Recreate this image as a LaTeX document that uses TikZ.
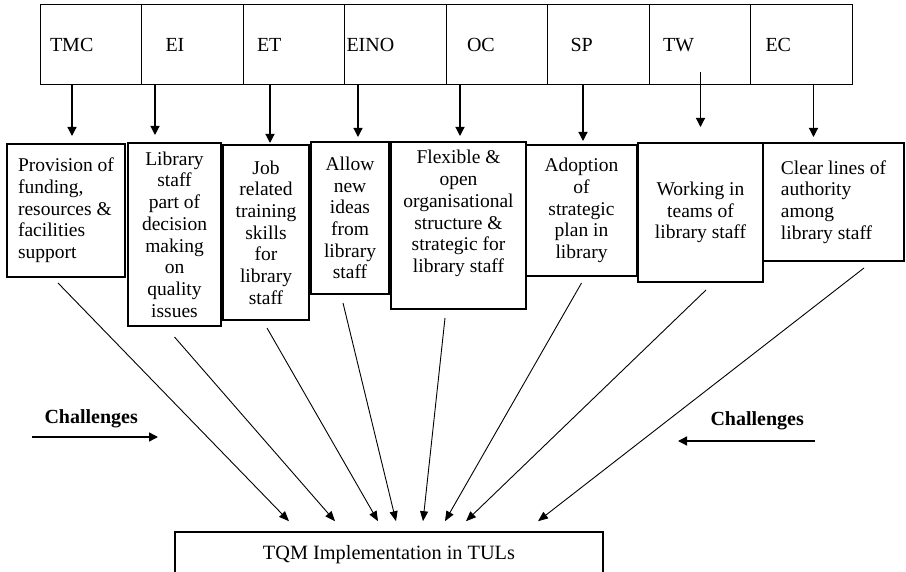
\documentclass[tikz,border=0pt]{standalone}
\usepackage{fontspec}
\setmainfont{Liberation Serif}
\usetikzlibrary{arrows.meta,calc}

\begin{document}
\begin{tikzpicture}[x=1pt,y=-1pt,
        cell/.style={draw, line width=1pt, minimum width=101.5pt, minimum height=80pt, inner xsep=0pt, text width=101.5pt, align=left, font=\fontsize{20}{24}\selectfont},
        box/.style={draw, line width=2pt, inner sep=0pt, font=\fontsize{19.5}{21.7}\selectfont},
        down/.style={-{Triangle[length=9pt,width=9pt]}, line width=1.2pt},
        conv/.style={-{Triangle[length=10pt,width=8pt]}, line width=0.9pt},
        side/.style={-{Triangle[length=9pt,width=9pt]}, line width=1.4pt},
        chal/.style={font=\bfseries\fontsize{20}{24}\selectfont}]
            \useasboundingbox (0,0) rectangle (906,572);
            \node [cell] (tmc) at (90.75,45) {\hspace*{10pt}TMC};
            \node [cell] (ei) at (192.25,45) {\hspace*{24pt}EI};
            \node [cell] (et) at (293.75,45) {\hspace*{14pt}ET};
            \node [cell] (eino) at (395.25,45) {\hspace*{2pt}EINO};
            \node [cell] (oc) at (496.75,45) {\hspace*{21pt}OC};
            \node [cell] (sp) at (598.25,45) {\hspace*{23pt}SP};
            \node [cell] (tw) at (699.75,45) {\hspace*{14pt}TW};
            \node [cell] (ec) at (801.25,45) {\hspace*{15pt}EC};
            \node [box, align=left, minimum width=118pt, minimum height=133pt] (fund) at (66,210.5) {Provision of\\funding,\\resources \&\\facilities\\support};
            \node [box, align=center, minimum width=93pt, minimum height=183pt] (staff) at (174.5,234.5) {Library\\staff\\part of\\decision\\making\\on\\quality\\issues};
            \node [box, align=center, minimum width=86pt, minimum height=175pt] (train) at (266,232.5) {Job\\related\\training\\skills\\for\\library\\staff};
            \node [box, align=center, minimum width=78pt, minimum height=152pt] (ideas) at (350,218) {Allow\\new\\ideas\\from\\library\\staff};
            \node [box, align=center, minimum width=135pt, minimum height=167pt] (struct) at (458.5,225.5) {Flexible \&\\open\\organisational\\structure \&\\strategic for\\library staff\\ \strut};
            \node [box, align=center, minimum width=111pt, minimum height=131pt] (plan) at (581.5,210.5) {Adoption\\of\\strategic\\plan in\\library};
            \node [box, align=center, minimum width=125pt, minimum height=139pt] (teams) at (700.5,212.5) {Working in\\teams of\\library staff};
            \node [box, align=left, minimum width=141pt, minimum height=118pt] (auth) at (833.5,202) {Clear lines of\\authority\\among\\library staff};
            \node [draw, line width=1.6pt, minimum width=428pt, minimum height=46pt, font=\fontsize{20.3}{24}\selectfont] (tqm) at (389,555) {TQM Implementation in TULs};
            \draw [down] ($(fund.north |- tmc.south)+(6,0)$) -- ($(fund.north)+(6,-7)$);
            \draw [down] ($(staff.north |- ei.south)+(-19.5,0)$) -- ($(staff.north)+(-19.5,-7)$);
            \draw [down] ($(train.north |- et.south)+(4,0)$) -- ($(train.north)+(4,-1)$);
            \draw [down] ($(ideas.north |- eino.south)+(8,0)$) -- ($(ideas.north)+(8,-4)$);
            \draw [down] ($(struct.north |- oc.south)+(1.5,0)$) -- ($(struct.north)+(1.5,-5)$);
            \draw [down] ($(plan.north |- sp.south)+(1.5,0)$) -- ($(plan.north)+(1.5,-3)$);
            \draw [down] ($(teams.north |- tw.south)+(0,-13)$) -- ($(teams.north)+(0,-15)$);
            \draw [down] ($(auth.north |- ec.south)+(-20,0)$) -- ($(auth.north)+(-20,-5)$);
            \draw [conv] ($(fund.south)+(-8,5)$) -- ($(tqm.north)+(-100,-10)$);
            \draw [conv] ($(staff.south)+(0,10)$) -- ($(tqm.north)+(-54,-10)$);
            \draw [conv] ($(train.south)+(1,7)$) -- ($(tqm.north)+(-11,-10)$);
            \draw [conv] ($(ideas.south)+(-7,8)$) -- ($(tqm.north)+(7,-10)$);
            \draw [conv] ($(struct.south)+(-13.5,8)$) -- ($(tqm.north)+(34,-10)$);
            \draw [conv] ($(plan.south)+(0,6)$) -- ($(tqm.north)+(56,-10)$);
            \draw [conv] ($(teams.south)+(5.5,7)$) -- ($(tqm.north)+(77,-10)$);
            \draw [conv] ($(auth.south)+(30.5,6)$) -- ($(tqm.north)+(149,-10)$);
            \node [chal, anchor=base west] (chl) at (41,423) {Challenges};
            \node [chal, anchor=base west] (chr) at (707,425) {Challenges};
            \coordinate (chlA) at (32,437);
            \coordinate (chlB) at (158,437);
            \coordinate (chrA) at (815,441);
            \coordinate (chrB) at (678,441);
            \draw [side] (chlA) -- (chlB);
            \draw [side] (chrA) -- (chrB);
        \end{tikzpicture}
\end{document}
